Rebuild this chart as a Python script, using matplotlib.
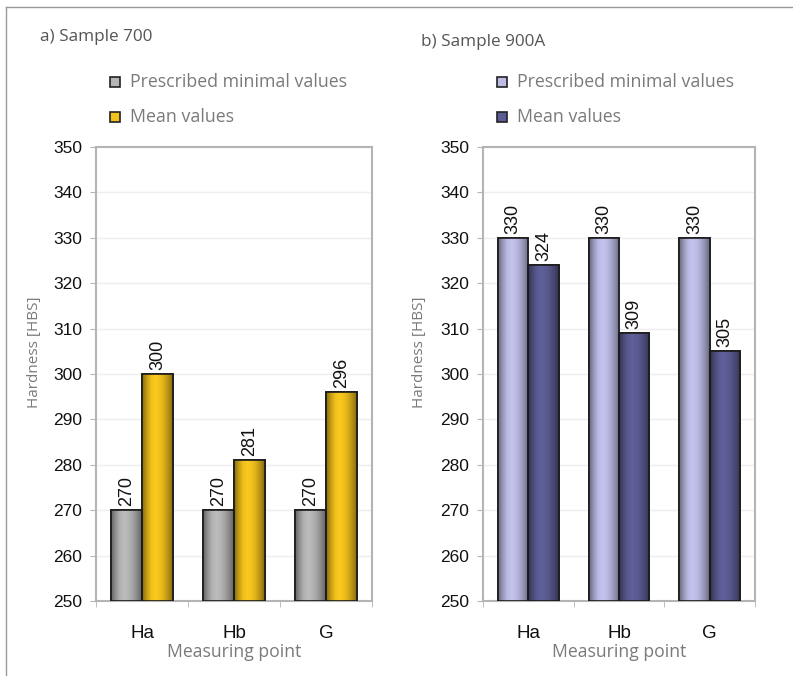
import matplotlib
matplotlib.use("Agg")
import matplotlib.pyplot as plt
import numpy as np
from matplotlib.colors import LinearSegmentedColormap, to_rgb
from matplotlib.lines import Line2D

categories = ["Ha", "Hb", "G"]
prescribed_700 = [270, 270, 270]
mean_700 = [300, 281, 296]
prescribed_900 = [330, 330, 330]
mean_900 = [324, 309, 305]
series_names = ["Prescribed minimal values", "Mean values"]
yticks = [250, 260, 270, 280, 290, 300, 310, 320, 330, 340, 350]

W, H = 793, 676
fig = plt.figure(figsize=(W / 100, H / 100), dpi=100)

TXT_GRAY = "#7a7a7a"
SPINE = "#b4b4b4"


def fpos(x0, y0, x1, y1):
    return [x0 / W, 1 - y1 / H, (x1 - x0) / W, (y1 - y0) / H]


def shade_cmap(color):
    r = np.array(to_rgb(color))
    facs = [0.55, 0.8, 0.98, 1.04, 1.0, 0.9, 0.75, 0.55]
    cols = [np.clip(r * f, 0, 1) for f in facs]
    return LinearSegmentedColormap.from_list("s", cols)


def panel(rect, title, title_xy, leg_xy, data, colors, ylab_x):
    ax = fig.add_axes(fpos(*rect))
    x = np.arange(len(categories))
    w = 0.335
    grad = np.linspace(0, 1, 64).reshape(1, -1)
    for k, (vals, col) in enumerate(zip(data, colors)):
        offs = (k - 0.5) * w
        bars = ax.bar(x + offs, [v - 250 for v in vals], width=w, bottom=250,
                      color=col, edgecolor="#1a1a1a", linewidth=1.2, zorder=3)
        cm = shade_cmap(col)
        for b, v in zip(bars, vals):
            bx, by = b.get_x(), b.get_y()
            bw, bh = b.get_width(), b.get_height()
            im = ax.imshow(grad, cmap=cm, aspect="auto",
                           extent=[bx, bx + bw, by, by + bh], zorder=3.5,
                           interpolation="bilinear")
            im.set_clip_path(b)
            ax.bar(b.get_x() + bw / 2, bh, width=bw, bottom=by, fill=False,
                   edgecolor="#1a1a1a", linewidth=1.2, zorder=4)
            ax.annotate(str(v), (bx + bw / 2, by + bh), xytext=(0, 3),
                        textcoords="offset points", rotation=90,
                        ha="center", va="bottom", fontsize=13,
                        family="Liberation Sans", color="#111111")
    ax.set_xlim(-0.5, len(categories) - 0.5)
    ax.set_ylim(250, 350)
    ax.set_yticks(yticks)
    ax.set_yticklabels([str(t) for t in yticks], family="Liberation Sans",
                       fontsize=12.5, color="#111111")
    ax.set_xticks(x)
    ax.set_xticklabels(categories, family="Liberation Sans", fontsize=13.5,
                       color="#111111")
    ax.tick_params(axis="x", length=0, pad=17)
    ax.set_xticks(np.arange(len(categories) + 1) - 0.5, minor=True)
    ax.tick_params(axis="x", which="minor", length=4, color=SPINE, direction="out")
    ax.tick_params(axis="y", length=4, color=SPINE, pad=6)
    for s in ax.spines.values():
        s.set_color(SPINE)
        s.set_linewidth(1.5)
    ax.grid(axis="y", color="#eeeeee", linewidth=1, zorder=0)
    ax.set_axisbelow(True)
    ax.set_ylabel("Hardness [HBS]", family="Open Sans", fontsize=11,
                  color=TXT_GRAY)
    ax.yaxis.set_label_coords(ylab_x, 0.548)
    ax.set_xlabel("Measuring point", family="Open Sans", fontsize=12.7,
                  color=TXT_GRAY, labelpad=1)
    fig.text(title_xy[0] / W, 1 - title_xy[1] / H, title, family="Open Sans",
             fontsize=12.3, color="#555555", va="center", ha="left")
    lx, ly = leg_xy
    for i, (name, col) in enumerate(zip(series_names, colors)):
        yy = ly + i * 35
        fig.patches.append(plt.Rectangle(((lx - 4) / W, 1 - (yy + 5) / H),
                                         10 / W, 10 / H, transform=fig.transFigure,
                                         facecolor=col, edgecolor="#222222",
                                         linewidth=1.2))
        fig.text((lx + 16) / W, 1 - yy / H, name, family="Open Sans",
                 fontsize=12.8, color=TXT_GRAY, va="center", ha="left")
    return ax


panel((96, 147, 372, 601), "a) Sample 700", (40, 37), (114, 82),
      [prescribed_700, mean_700], ["#b5b5b5", "#f2c21c"], -0.195)
panel((483, 147, 755, 601), "b) Sample 900A", (421, 42), (501, 82),
      [prescribed_900, mean_900], ["#bcbce6", "#5c5c94"], -0.206)

fig.add_artist(Line2D([6 / W, 6 / W], [0, 1 - 7 / H], color="#999999",
                      linewidth=1, transform=fig.transFigure))
fig.add_artist(Line2D([6 / W, 1], [1 - 7 / H, 1 - 7 / H], color="#999999",
                      linewidth=1, transform=fig.transFigure))

fig.savefig("out.png", dpi=100, facecolor="white")
